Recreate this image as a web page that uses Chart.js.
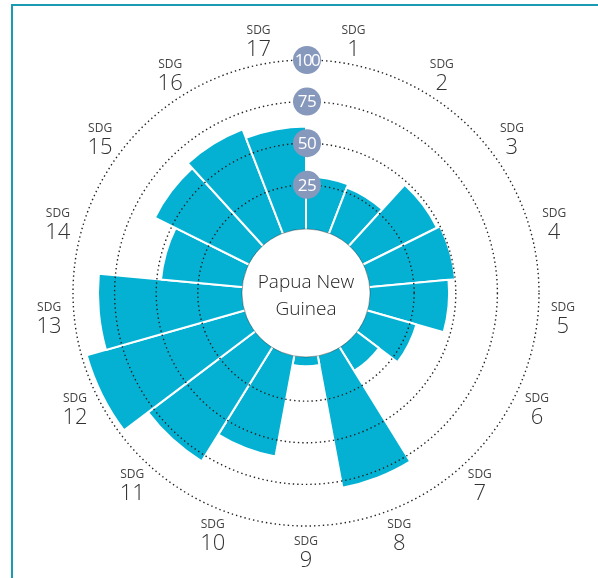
<!DOCTYPE html>
<html>
<head>
<meta charset="utf-8">
<script src="https://cdn.jsdelivr.net/npm/chart.js@4"></script>
<style>
  html, body { margin: 0; padding: 0; background: #fff; }
  canvas { display: block; }
</style>
</head>
<body>
<canvas id="sdgChart" width="598" height="578"></canvas>
<script>
// SDG index scores, one wedge per goal, clockwise from the top
const goals = ['1', '2', '3', '4', '5', '6', '7', '8', '9', '10', '11', '12', '13', '14', '15', '16', '17'];
const scores = [30, 28, 48, 50, 46, 29, 15, 79, 4, 60, 79, 97, 85, 47.5, 61.5, 65.5, 60];
const ringValues = [25, 50, 75, 100];
const country = ['Papua New', 'Guinea'];

const barColor = '#05b1d3';
const frameColor = '#1a9ab3';
const badgeColor = '#8798bd';

// white hub, goal labels, ring badges and the frame
const sdgDecor = {
  id: 'sdgDecor',
  afterDatasetsDraw(chart) {
    const r = chart.scales.r;
    const ctx = chart.ctx;
    const hub = r.getDistanceFromCenterForValue(0) - 2.5;
    ctx.save();
    ctx.beginPath();
    ctx.arc(r.xCenter, r.yCenter, hub, 0, Math.PI * 2);
    ctx.fillStyle = '#fff';
    ctx.fill();
    ctx.lineWidth = 1;
    ctx.strokeStyle = 'rgba(0,0,0,0.35)';
    ctx.stroke();
    ctx.fillStyle = '#222';
    ctx.font = '300 19px "Open Sans"';
    ctx.textAlign = 'center';
    ctx.textBaseline = 'middle';
    ctx.fillText(country[0], r.xCenter, r.yCenter - 10);
    ctx.fillText(country[1], r.xCenter, r.yCenter + 17);
    ctx.restore();
  },
  afterDraw(chart) {
    const r = chart.scales.r;
    const ctx = chart.ctx;
    ctx.save();
    ctx.textAlign = 'center';
    ctx.textBaseline = 'middle';

    // value badges on the rings
    ringValues.forEach(v => {
      const p = r.getPointPosition(0, r.getDistanceFromCenterForValue(v));
      ctx.beginPath();
      ctx.arc(p.x + 1, p.y, 14, 0, Math.PI * 2);
      ctx.fillStyle = badgeColor;
      ctx.fill();
      ctx.fillStyle = '#fff';
      ctx.font = '17px "Open Sans"';
      ctx.letterSpacing = v >= 100 ? '-1.5px' : '-0.5px';
      ctx.fillText(String(v), p.x + 1, p.y + 1);
    });
    ctx.letterSpacing = '0px';

    // goal labels around the outside
    goals.forEach((g, i) => {
      const p = r.getPointPosition(i + 0.5, 258);
      ctx.fillStyle = '#444';
      ctx.font = '12px "Open Sans"';
      ctx.fillText('SDG', p.x, p.y - 9);
      ctx.fillStyle = '#333';
      ctx.font = '300 22px "Open Sans"';
      ctx.fillText(g, p.x, p.y + 10);
    });

    // frame
    ctx.fillStyle = frameColor;
    ctx.fillRect(11, 4, chart.width - 11, 2);
    ctx.fillRect(11, 4, 2, chart.height - 4);
    ctx.restore();
  }
};

new Chart(document.getElementById('sdgChart'), {
  type: 'polarArea',
  data: {
    labels: goals.map(g => 'SDG ' + g),
    datasets: [{
      data: scores,
      backgroundColor: barColor,
      borderColor: '#fff',
      borderWidth: 2
    }]
  },
  options: {
    responsive: false,
    animation: false,
    layout: { padding: { left: 73, right: 59, top: 60, bottom: 52 } },
    plugins: {
      legend: { display: false },
      tooltip: { enabled: false }
    },
    scales: {
      r: {
        min: -40,
        max: 100,
        startAngle: 0,
        afterBuildTicks: scale => {
          scale.ticks = ringValues.map(v => ({ value: v }));
        },
        ticks: { display: false },
        grid: { circular: true, color: '#222', lineWidth: 1.4, z: 1 },
        border: { dash: [1.4, 3] },
        angleLines: { display: false },
        pointLabels: { display: false }
      }
    }
  },
  plugins: [sdgDecor]
});
</script>
</body>
</html>
